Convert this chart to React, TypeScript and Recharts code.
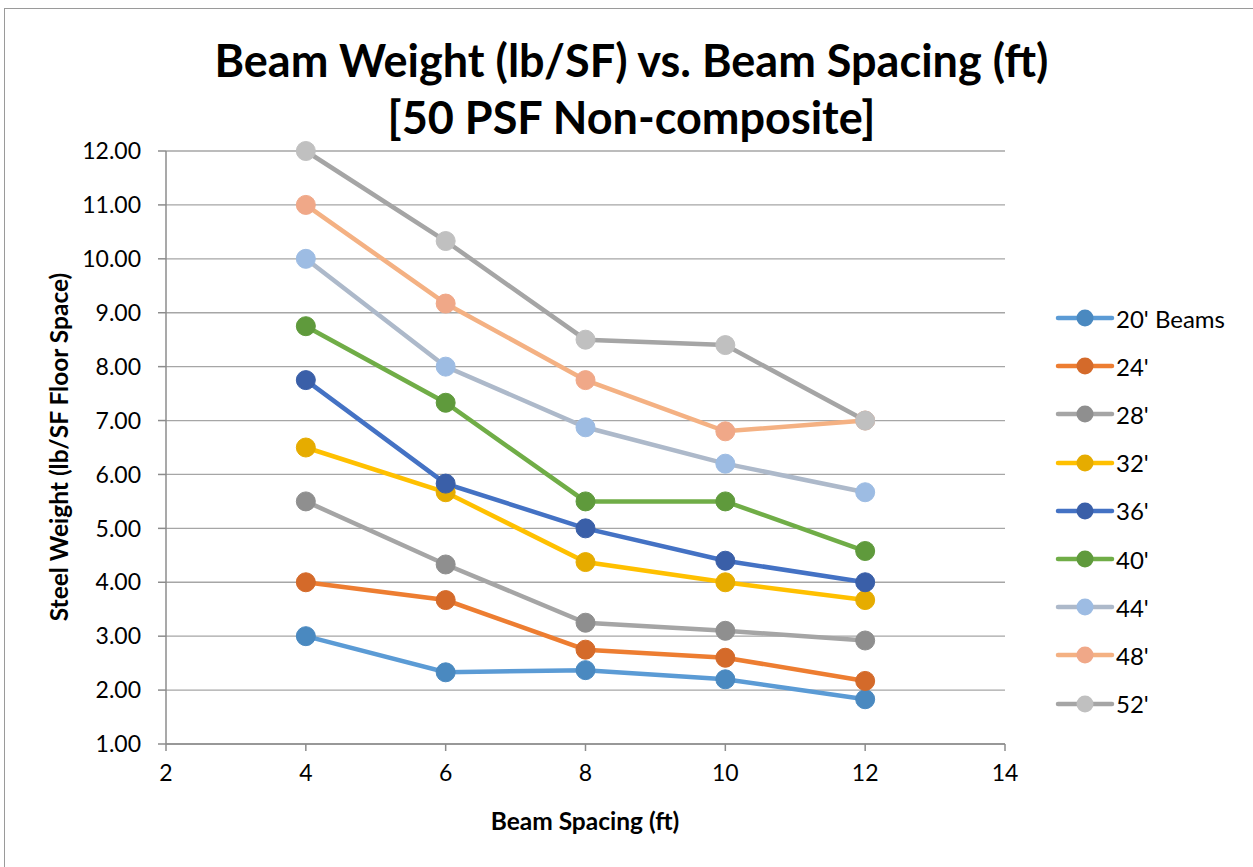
import { CartesianGrid, Line, LineChart, XAxis, YAxis } from "recharts";

const spacing = [4, 6, 8, 10, 12];
const beams20 = [3.0, 2.33, 2.37, 2.2, 1.83];
const beams24 = [4.0, 3.67, 2.75, 2.6, 2.17];
const beams28 = [5.5, 4.33, 3.25, 3.1, 2.92];
const beams32 = [6.5, 5.67, 4.375, 4.0, 3.67];
const beams36 = [7.75, 5.83, 5.0, 4.4, 4.0];
const beams40 = [8.75, 7.33, 5.5, 5.5, 4.58];
const beams44 = [10.0, 8.0, 6.875, 6.2, 5.67];
const beams48 = [11.0, 9.17, 7.75, 6.8, 7.0];
const beams52 = [12.0, 10.33, 8.5, 8.4, 7.0];
const xTicks = [2, 4, 6, 8, 10, 12, 14];
const yTicks = [1, 2, 3, 4, 5, 6, 7, 8, 9, 10, 11, 12];

const series = [
  { key: "b20", name: "20' Beams", values: beams20, line: "#5B9BD5", dot: "#4A89C0" },
  { key: "b24", name: "24'", values: beams24, line: "#ED7D31", dot: "#D46A2A" },
  { key: "b28", name: "28'", values: beams28, line: "#A5A5A5", dot: "#8F8F8F" },
  { key: "b32", name: "32'", values: beams32, line: "#FFC000", dot: "#E6AC00" },
  { key: "b36", name: "36'", values: beams36, line: "#4472C4", dot: "#3A5FA8" },
  { key: "b40", name: "40'", values: beams40, line: "#70AD47", dot: "#5F9A3C" },
  { key: "b44", name: "44'", values: beams44, line: "#ADB9CA", dot: "#9DBCE3" },
  { key: "b48", name: "48'", values: beams48, line: "#F4B183", dot: "#F0A888" },
  { key: "b52", name: "52'", values: beams52, line: "#A5A5A5", dot: "#C0C0C0" },
];

const data = spacing.map((x, i) => {
  const row: Record<string, number> = { x };
  series.forEach((s) => {
    row[s.key] = s.values[i];
  });
  return row;
});

const FONT = "Lato, 'Open Sans', sans-serif";

function LegendBox() {
  return (
    <div
      style={{
        position: "absolute",
        left: 1054,
        top: 294,
        fontFamily: FONT,
        fontSize: 24,
        color: "#000",
      }}
    >
      {series.map((s) => (
        <div key={s.key} style={{ display: "flex", alignItems: "center", height: 48.2 }}>
          <svg width={62} height={24}>
            <line x1={4} y1={12} x2={58} y2={12} stroke={s.line} strokeWidth={4.5} strokeLinecap="round" />
            <circle cx={31} cy={12} r={8.5} fill={s.dot} />
          </svg>
          <span>{s.name}</span>
        </div>
      ))}
    </div>
  );
}

export default function App() {
  return (
    <div
      style={{
        position: "absolute",
        left: 0,
        top: 0,
        width: 1253,
        height: 867,
        overflow: "hidden",
        background: "#fff",
        fontFamily: FONT,
      }}
    >
      <div
        style={{
          position: "absolute",
          left: 4,
          top: 8,
          width: 1270,
          height: 900,
          border: "1px solid #9a9a9a",
        }}
      />
      <div
        style={{
          position: "absolute",
          left: 0,
          top: 32,
          width: 1263,
          textAlign: "center",
          fontWeight: 700,
          fontSize: 45,
          lineHeight: "57px",
          color: "#000",
        }}
      >
        Beam Weight (lb/SF) vs. Beam Spacing (ft)
        <br />
        [50 PSF Non-composite]
      </div>
      <div
        style={{
          position: "absolute",
          left: 58,
          top: 447,
          transform: "translate(-50%, -50%) rotate(-90deg)",
          whiteSpace: "nowrap",
          fontWeight: 700,
          fontSize: 24.5,
          color: "#000",
        }}
      >
        Steel Weight (lb/SF Floor Space)
      </div>
      <div
        style={{
          position: "absolute",
          left: 585,
          top: 820,
          transform: "translate(-50%, -50%)",
          whiteSpace: "nowrap",
          fontWeight: 700,
          fontSize: 24.5,
          color: "#000",
        }}
      >
        Beam Spacing (ft)
      </div>
      <LineChart
        width={1253}
        height={867}
        data={data}
        margin={{ top: 151, right: 248, bottom: 0, left: 86 }}
        style={{ position: "absolute", left: 0, top: 0 }}
      >
        <CartesianGrid horizontal vertical={false} stroke="#A6A6A6" strokeWidth={1.3} />
        <XAxis
          dataKey="x"
          type="number"
          domain={[2, 14]}
          ticks={xTicks}
          interval={0}
          height={123}
          tickSize={7}
          tickMargin={14}
          stroke="#8C8C8C"
          strokeWidth={1.5}
          tick={{ fill: "#000", fontSize: 23, fontFamily: FONT }}
        />
        <YAxis
          type="number"
          domain={[1, 12]}
          ticks={yTicks}
          interval={0}
          width={80}
          tickSize={8}
          tickMargin={17}
          stroke="#8C8C8C"
          strokeWidth={1.5}
          tickFormatter={(v) => Number(v).toFixed(2)}
          tick={{ fill: "#000", fontSize: 23, fontFamily: FONT }}
        />
        {series.map((s) => (
          <Line
            key={s.key}
            dataKey={s.key}
            name={s.name}
            stroke={s.line}
            strokeWidth={4.5}
            dot={{ r: 9.5, fill: s.dot, stroke: s.dot, strokeWidth: 1 }}
            activeDot={false}
            isAnimationActive={false}
          />
        ))}
      </LineChart>
      <LegendBox />
    </div>
  );
}
